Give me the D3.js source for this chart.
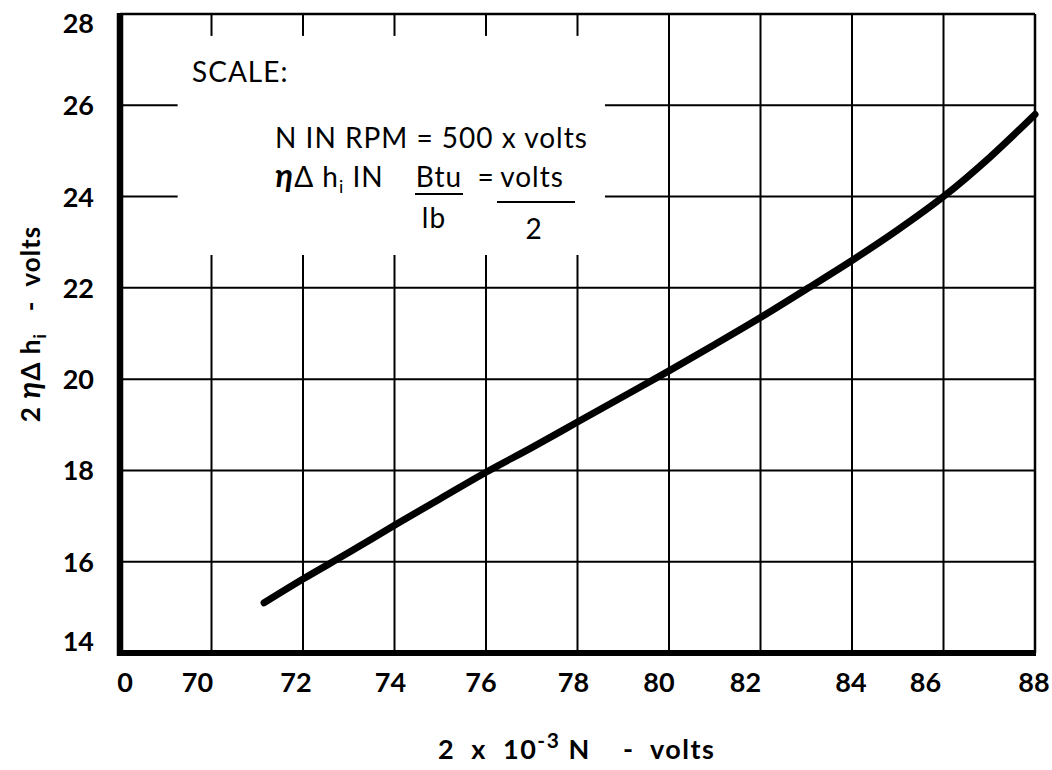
<!DOCTYPE html>
<html>
<head>
<meta charset="utf-8">
<script src="https://cdn.jsdelivr.net/npm/d3@7/dist/d3.min.js"></script>
<style>
  body { margin: 0; background: #fff; }
  text { font-family: Lato, "Open Sans", sans-serif; fill: #000; }
</style>
</head>
<body>
<svg id="chart" width="1052" height="770"></svg>
<script>
// Axis ticks (the x axis is broken: its origin is labelled 0, then 70 ... 88)
const xTicks = [68, 70, 72, 74, 76, 78, 80, 82, 84, 86, 88];
const xTickLabels = ["0", "70", "72", "74", "76", "78", "80", "82", "84", "86", "88"];
const yTicks = [14, 16, 18, 20, 22, 24, 26, 28];
const yTickLabels = ["14", "16", "18", "20", "22", "24", "26", "28"];

// Curve: 2·10^-3 N (volts) vs 2ηΔh_i (volts)
const curveX = [71.15, 72, 73, 74, 75, 76, 77, 78, 79, 80, 81, 82, 83, 84, 85, 86, 87, 88];
const curveY = [15.1, 15.62, 16.2, 16.8, 17.38, 17.96, 18.5, 19.06, 19.62, 20.18, 20.76, 21.35, 21.97, 22.6, 23.27, 24.0, 24.85, 25.8];

// Blank panel that holds the scale note (x and y in data units)
const noteBoxX = [69.26, 78.6];
const noteBoxY = [22.72, 27.52];

const svg = d3.select("#chart");
const x = d3.scaleLinear().domain([68, 88]).range([120, 1035]);
const y = d3.scaleLinear().domain([14, 28]).range([653, 14]);

// Grid
const grid = svg.append("g").attr("stroke", "#000").attr("stroke-width", 2);
grid.selectAll("line.v").data(xTicks.slice(1, -1)).join("line")
  .attr("x1", d => x(d)).attr("x2", d => x(d))
  .attr("y1", y(28)).attr("y2", y(14));
grid.selectAll("line.h").data(yTicks.slice(1, -1)).join("line")
  .attr("x1", x(68)).attr("x2", x(88))
  .attr("y1", d => y(d)).attr("y2", d => y(d));

// Note panel masks part of the grid (short ticks remain at the top edge)
svg.append("rect")
  .attr("x", x(noteBoxX[0])).attr("y", y(noteBoxY[1]))
  .attr("width", x(noteBoxX[1]) - x(noteBoxX[0]))
  .attr("height", y(noteBoxY[0]) - y(noteBoxY[1]))
  .attr("fill", "#fff");

// Frame: thin top/right, heavy left/bottom
svg.append("line").attr("x1", x(68)).attr("x2", x(88)).attr("y1", y(28)).attr("y2", y(28))
  .attr("stroke", "#000").attr("stroke-width", 2.5);
svg.append("line").attr("x1", x(88)).attr("x2", x(88)).attr("y1", y(28)).attr("y2", y(14))
  .attr("stroke", "#000").attr("stroke-width", 2.5);
svg.append("line").attr("x1", x(68)).attr("x2", x(68)).attr("y1", y(28) - 1).attr("y2", y(14) + 3)
  .attr("stroke", "#000").attr("stroke-width", 6.5);
svg.append("line").attr("x1", x(68) - 3).attr("x2", x(88) + 1).attr("y1", y(14)).attr("y2", y(14))
  .attr("stroke", "#000").attr("stroke-width", 6);

// Curve
const pts = curveX.map((v, i) => [v, curveY[i]]);
svg.append("path")
  .datum(pts)
  .attr("fill", "none").attr("stroke", "#000").attr("stroke-width", 7)
  .attr("stroke-linecap", "round")
  .attr("d", d3.line().x(d => x(d[0])).y(d => y(d[1])).curve(d3.curveMonotoneX));

// Tick labels (hand-lettered, slightly off the grid lines)
const xNudge = {68: 5, 70: -14, 72: -7, 74: -4, 76: -5, 78: -4, 80: -10, 82: -15, 84: -1, 86: -18, 88: -1};
svg.append("g").selectAll("text").data(xTicks).join("text")
  .attr("x", d => x(d) + xNudge[d])
  .attr("y", y(14) + 39)
  .attr("text-anchor", "middle")
  .attr("font-size", 27).attr("font-weight", 700)
  .text((d, i) => xTickLabels[i]);

const yNudge = {14: -12, 28: 9};
svg.append("g").selectAll("text").data(yTicks).join("text")
  .attr("x", 94)
  .attr("y", d => y(d) + 10 + (yNudge[d] || 0))
  .attr("text-anchor", "end")
  .attr("font-size", 27).attr("font-weight", 700)
  .text((d, i) => yTickLabels[i]);

// Axis titles
const xt = svg.append("text").attr("x", 438).attr("y", 759)
  .attr("font-size", 27).attr("font-weight", 700).attr("letter-spacing", 1.5)
  .attr("xml:space", "preserve");
xt.append("tspan").text("2  x  10");
xt.append("tspan").attr("dy", -11).attr("font-size", 21).text("-3");
xt.append("tspan").attr("dy", 11).text(" N    -  volts");

const yt = svg.append("text")
  .attr("transform", "translate(40,324) rotate(-90)")
  .attr("text-anchor", "middle")
  .attr("font-size", 26).attr("font-weight", 700).attr("letter-spacing", 1)
  .attr("xml:space", "preserve");
yt.append("tspan").text("2 ");
yt.append("tspan").attr("font-style", "italic").attr("font-size", 31).text("η");
yt.append("tspan").text("Δ h");
yt.append("tspan").attr("dy", 6).attr("font-size", 17).text("i");
yt.append("tspan").attr("dy", -6).text("   -  volts");

// Scale note
const note = svg.append("g").attr("font-size", 28).attr("letter-spacing", 1);
note.append("text").attr("x", 192).attr("y", 82).text("SCALE:");
note.append("text").attr("x", 275).attr("y", 148).attr("xml:space", "preserve")
  .text("N IN RPM = 500 x volts");
const l2 = note.append("text").attr("x", 275).attr("y", 187).attr("xml:space", "preserve");
l2.append("tspan").attr("font-style", "italic").attr("font-weight", 700).attr("font-size", 33).text("η");
l2.append("tspan").text("Δ h");
l2.append("tspan").attr("dy", 6).attr("font-size", 18).text("i");
l2.append("tspan").attr("dy", -6).text(" IN");
note.append("text").attr("x", 439).attr("y", 187).attr("text-anchor", "middle").text("Btu");
note.append("line").attr("x1", 415).attr("x2", 463).attr("y1", 194).attr("y2", 194)
  .attr("stroke", "#000").attr("stroke-width", 2);
note.append("text").attr("x", 434).attr("y", 228).attr("text-anchor", "middle").text("lb");
note.append("text").attr("x", 486).attr("y", 187).attr("text-anchor", "middle").text("=");
note.append("text").attr("x", 532).attr("y", 187).attr("text-anchor", "middle").text("volts");
note.append("line").attr("x1", 497).attr("x2", 575).attr("y1", 202).attr("y2", 202)
  .attr("stroke", "#000").attr("stroke-width", 2);
note.append("text").attr("x", 534).attr("y", 239).attr("text-anchor", "middle").text("2");
</script>
</body>
</html>
